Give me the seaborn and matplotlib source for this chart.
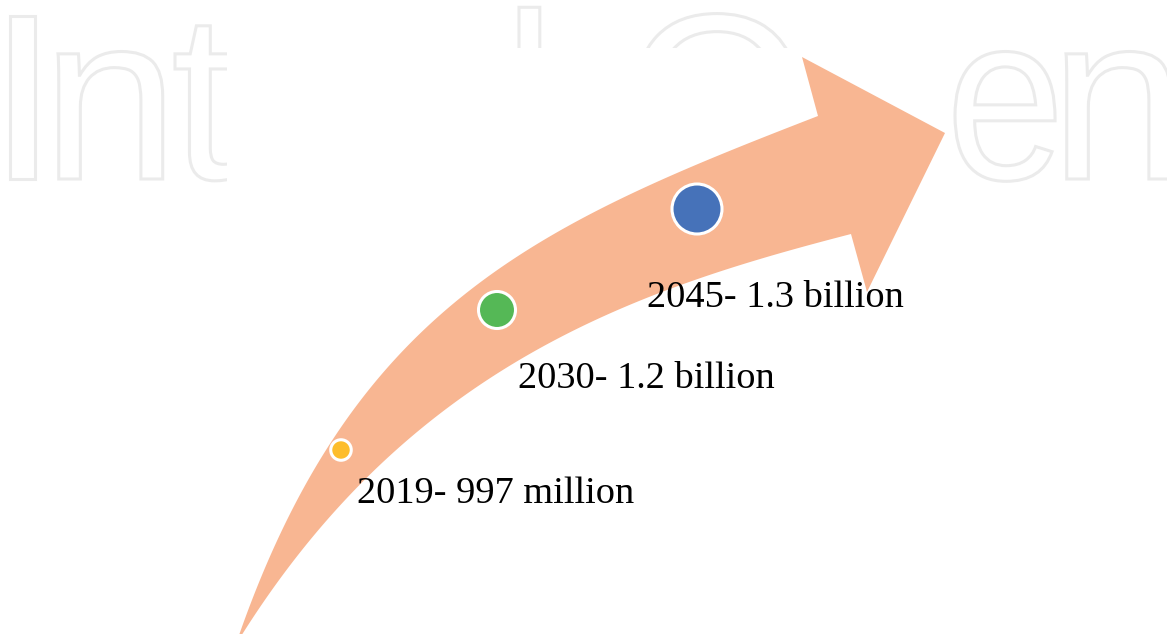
import numpy as np
import pandas as pd
import matplotlib
matplotlib.use("Agg")
import matplotlib.pyplot as plt
import seaborn as sns
from matplotlib.textpath import TextPath
from matplotlib.font_manager import FontProperties
from matplotlib.patches import PathPatch, Polygon, Rectangle
from matplotlib.path import Path

# ---------------- data ----------------
years = [2019, 2030, 2045]
amounts = ["997 million", "1.2 billion", "1.3 billion"]
labels = [f"{y}- {a}" for y, a in zip(years, amounts)]

# ---------------- layout / style ----------------
W, H = 1167, 634
marker_x = [341, 497, 697]
marker_y = [450, 310, 209]
marker_sizes = [218, 710, 1296]          # points^2
marker_colors = ["#FDBD2B", "#55B856", "#4672B9"]
label_x = [357, 518, 647]
label_y = [503, 388, 307]
arrow_color = "#F8B692"

# watermark letters, ink-left positions and horizontal squeeze (pixels)
wm_letters = list("IntechOpen")
wm_left = [10, 58, 175, 240, 360, 519, 636, 810, 955, 1066]
wm_squeeze = [1.15, 1.04, 1.0, 0.9, 1.0, 1.0, 1.0, 1.0, 0.9, 1.04]

# arrow geometry (pixel space, y downwards)
outer_ctrl = np.array([[237, 641], [353, 305], [539, 224], [818, 116]], float)
inner_ctrl = np.array([[238, 641], [410, 364], [638, 289], [851, 234]], float)
head = np.array([[802, 57], [945, 133], [867, 292]], float)


def bezier(ctrl, n=200):
    t = np.linspace(0, 1, n)[:, None]
    return ((1 - t) ** 3 * ctrl[0] + 3 * t * (1 - t) ** 2 * ctrl[1]
            + 3 * t ** 2 * (1 - t) * ctrl[2] + t ** 3 * ctrl[3])


sns.set_theme(style="white")
fig = plt.figure(figsize=(W / 100, H / 100), dpi=100)
ax = fig.add_axes([0, 0, 1, 1])
fig.patch.set_facecolor("white")

# ---- watermark (outlined text) ----
fp = FontProperties(family="Liberation Sans")
ipath = TextPath((0, 0), "I", size=1, prop=fp)
cap = ipath.get_extents().y1
scale = 163 / cap
for ch, left, sq in zip(wm_letters, wm_left, wm_squeeze):
    tp = TextPath((0, 0), ch, size=1, prop=fp)
    ext = tp.get_extents()
    v = tp.vertices.copy()
    v2 = np.column_stack([left + (v[:, 0] - ext.x0) * scale * sq, 179 - v[:, 1] * scale])
    ax.add_patch(PathPatch(Path(v2, tp.codes), facecolor="white",
                           edgecolor="#EBEBEB", lw=2.2, zorder=1))
ax.add_patch(Rectangle((227, 48), 726, 640, facecolor="white", edgecolor="none", zorder=2))

# ---- arrow ----
outer = bezier(outer_ctrl)
inner = bezier(inner_ctrl)
poly = np.vstack([outer, head, inner[::-1]])
ax.add_patch(Polygon(poly, closed=True, facecolor=arrow_color, edgecolor="none", zorder=3))

# ---- markers ----
df = pd.DataFrame({"year": [str(y) for y in years], "x": marker_x, "y": marker_y})
sns.scatterplot(data=df, x="x", y="y", hue="year", size="year",
                palette=dict(zip(df["year"], marker_colors)),
                sizes=dict(zip(df["year"], marker_sizes)),
                edgecolor="white", linewidth=2.2, legend=False, ax=ax, zorder=4)
ax.set_xlim(0, W)
ax.set_ylim(H, 0)
ax.axis("off")

# ---- labels ----
for lx, ly, txt in zip(label_x, label_y, labels):
    ax.text(lx, ly, txt, family="Liberation Serif", fontsize=27.6,
            color="black", ha="left", va="baseline", zorder=5)

fig.savefig("out.png", dpi=100, facecolor="white")
